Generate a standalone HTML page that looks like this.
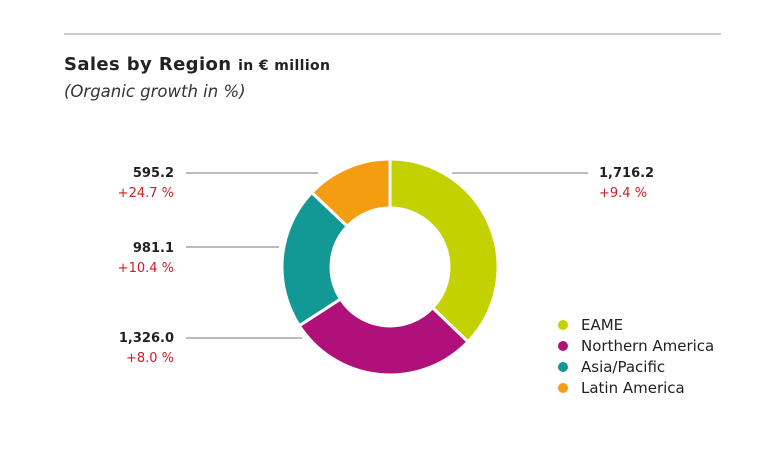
<!DOCTYPE html><html><head><style>
body{margin:0;background:#fff;width:757px;height:452px;overflow:hidden;font-family:"DejaVu Sans","Liberation Sans",sans-serif}
</style></head><body>
<svg width="757" height="452" xmlns="http://www.w3.org/2000/svg" font-family="DejaVu Sans, Liberation Sans, sans-serif">
<line x1="64" y1="34" x2="721" y2="34" stroke="#999" stroke-width="1"/>
<text x="64" y="70" font-size="18" font-weight="bold" fill="#222" textLength="266">Sales by Region <tspan font-size="14">in € million</tspan></text>
<text x="64" y="97" font-size="16.5" font-style="italic" fill="#333">(Organic growth in %)</text>
<g stroke="#fff" stroke-width="3">
<path d="M390,159 A108,108 0 0 1 467.95,341.75 L432.6,307.8 A59,59 0 0 0 390,208 Z" fill="#c3d100"/>
<path d="M467.95,341.75 A108,108 0 0 1 299.32,325.67 L340.5,299 A59,59 0 0 0 432.6,307.8 Z" fill="#b0107a"/>
<path d="M299.32,325.67 A108,108 0 0 1 311.79,192.52 L347.3,226.3 A59,59 0 0 0 340.5,299 Z" fill="#129895"/>
<path d="M311.79,192.52 A108,108 0 0 1 390,159 L390,208 A59,59 0 0 0 347.3,226.3 Z" fill="#f49d10"/>
</g>
<g stroke="#777" stroke-width="1">
<line x1="186" y1="173" x2="318" y2="173"/>
<line x1="186" y1="247" x2="279" y2="247"/>
<line x1="186" y1="338" x2="302" y2="338"/>
<line x1="452" y1="173" x2="588" y2="173"/>
</g>
<g font-size="13" font-weight="bold" text-anchor="end">
<text x="174" y="177" fill="#222">595.2</text><text x="174" y="197" fill="#c8202a" font-weight="normal">+24.7 %</text>
<text x="174" y="252" fill="#222">981.1</text><text x="174" y="272" fill="#c8202a" font-weight="normal">+10.4 %</text>
<text x="174" y="342" fill="#222">1,326.0</text><text x="174" y="362" fill="#c8202a" font-weight="normal">+8.0 %</text>
</g>
<g font-size="13" font-weight="bold">
<text x="599" y="177" fill="#222">1,716.2</text><text x="599" y="197" fill="#c8202a" font-weight="normal">+9.4 %</text>
</g>
<g font-size="15" fill="#222">
<circle cx="563" cy="325" r="5" fill="#c3d100"/><text x="581" y="330">EAME</text>
<circle cx="563" cy="346" r="5" fill="#b0107a"/><text x="581" y="351">Northern America</text>
<circle cx="563" cy="367" r="5" fill="#129895"/><text x="581" y="372">Asia/Pacific</text>
<circle cx="563" cy="388" r="5" fill="#f49d10"/><text x="581" y="393">Latin America</text>
</g>
</svg>
</body></html>
